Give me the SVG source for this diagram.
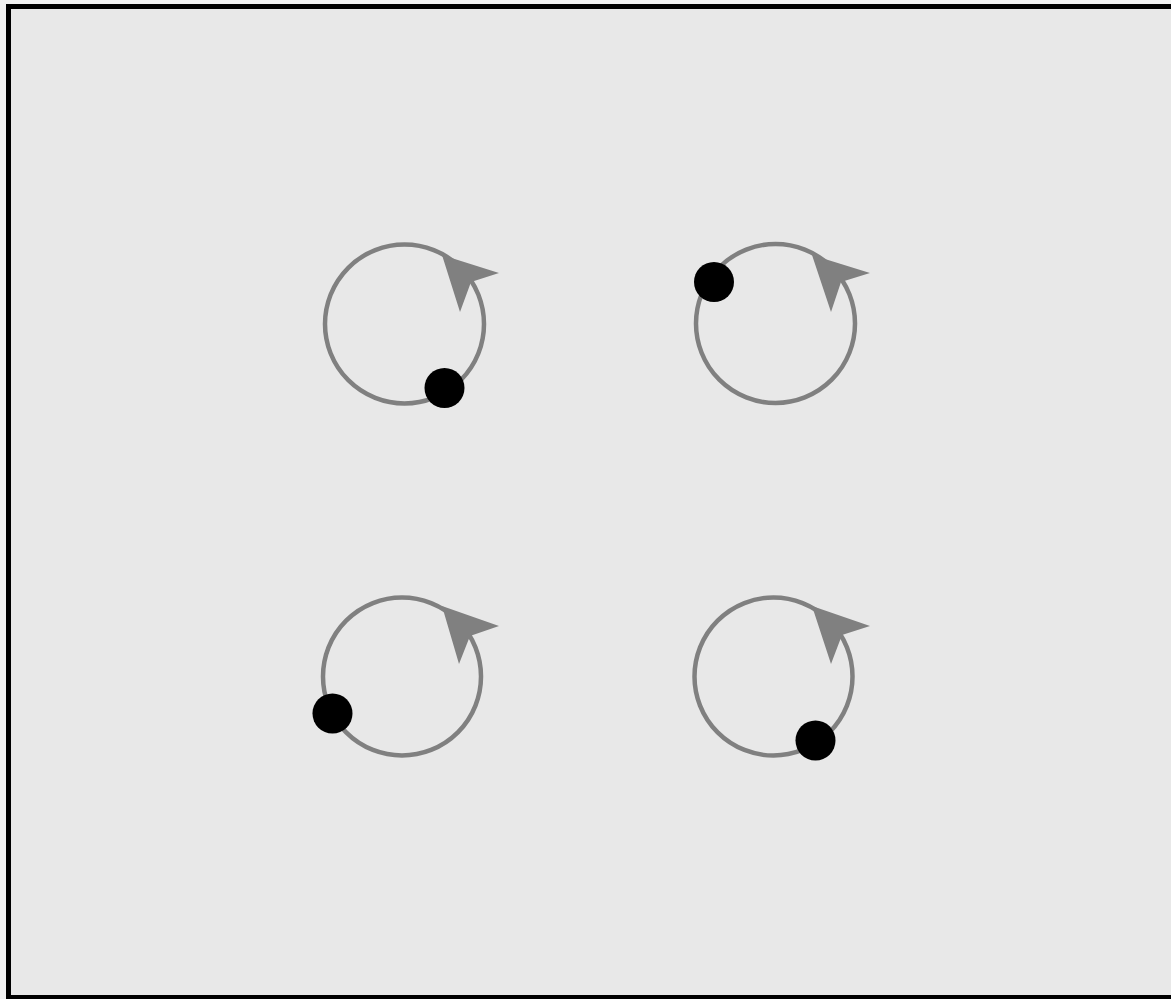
<svg xmlns="http://www.w3.org/2000/svg" width="1171" height="999" viewBox="0 0 1171 999">
<style>
.ring{fill:none;stroke:#808080;stroke-width:4.5}
.head{fill:#808080}
.dot{fill:#000}
</style>
<rect x="0" y="0" width="1171" height="999" fill="#f2f2f2"/>
<rect x="8.5" y="6.5" width="1175" height="991" fill="#e8e8e8" stroke="#000" stroke-width="5"/>
<g id="c1">
<circle class="ring" cx="404.5" cy="324" r="79.5"/>
<polygon class="head" points="499,273 442,255 460,312 471,282"/>
<circle class="dot" cx="444.5" cy="388" r="20"/>
</g>
<g id="c2">
<circle class="ring" cx="775.5" cy="323.5" r="79.5"/>
<polygon class="head" points="870,273 812,255 831,312 841,282"/>
<circle class="dot" cx="714" cy="282" r="20"/>
</g>
<g id="c3">
<circle class="ring" cx="402" cy="676.5" r="79"/>
<polygon class="head" points="499,626 442,606 459,664 470,636"/>
<circle class="dot" cx="332.5" cy="713.5" r="20"/>
</g>
<g id="c4">
<circle class="ring" cx="773.5" cy="676.5" r="79"/>
<polygon class="head" points="870,626 812,606 831,664 842,635"/>
<circle class="dot" cx="815.5" cy="740.5" r="20"/>
</g>
</svg>
